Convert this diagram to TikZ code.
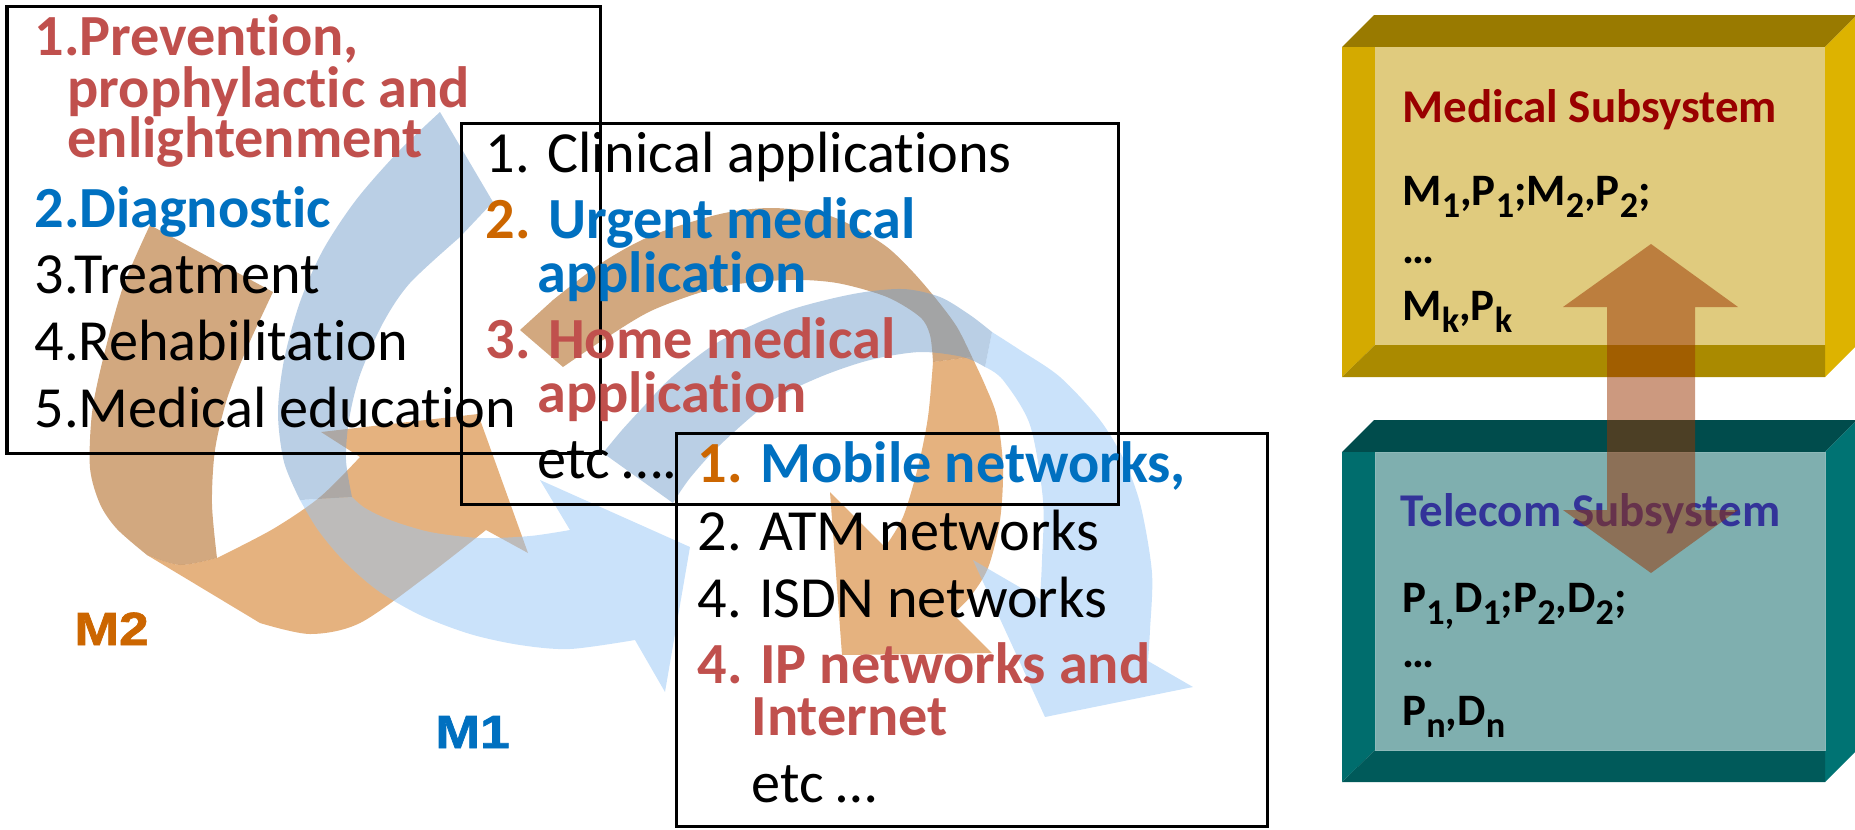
\documentclass[tikz,border=0pt]{standalone}
\usepackage{fontspec}
\setmainfont{Carlito}[Ligatures={NoCommon}]
\newfontfamily\labelfont{Liberation Sans}[FakeStretch=1.15, BoldFeatures={FakeBold=1.5}]

\definecolor{cred}{HTML}{C0504D}
\definecolor{cblue}{HTML}{0070C0}
\definecolor{corange}{HTML}{CC6600}
\definecolor{medred}{HTML}{990000}
\definecolor{telblue}{HTML}{333399}
\definecolor{ribor}{RGB}{204,102,0}
\definecolor{ribordk}{RGB}{165,82,0}
\definecolor{ribbl}{RGB}{150,197,245}
\definecolor{ribbldk}{RGB}{118,160,203}
\definecolor{linkarrow}{HTML}{993300}
\definecolor{medtop}{HTML}{997A00}
\definecolor{medside}{HTML}{DDB300}
\definecolor{medleft}{HTML}{D4AA00}
\definecolor{medbot}{HTML}{AA8A00}
\definecolor{medface}{HTML}{E0CB7E}
\definecolor{teltop}{HTML}{004C4C}
\definecolor{telside}{HTML}{007373}
\definecolor{telleft}{HTML}{006D6D}
\definecolor{telbot}{HTML}{005A5A}
\definecolor{telface}{HTML}{7FAFAF}
\definecolor{telrim}{HTML}{8DB9B9}

\newcommand\subidx[1]{\raisebox{-4.8pt}{\fontsize{14.5}{14.5}\selectfont #1}}

\begin{document}
\begin{tikzpicture}[x=0.4pt,y=-0.4pt,
  lt/.style={anchor=base west, inner sep=0pt, font=\fontsize{23.3}{26}\selectfont},
  lb/.style={anchor=base west, inner sep=0pt, font=\fontsize{23.3}{26}\selectfont\bfseries},
  rt/.style={anchor=base west, inner sep=0pt, font=\fontsize{18.8}{22}\selectfont\bfseries},
  rf/.style={anchor=base west, inner sep=0pt, font=\fontsize{18}{22}\selectfont\bfseries},
  ml/.style={anchor=base west, inner sep=0pt, font=\labelfont\fontsize{18.6}{22}\selectfont\bfseries},
  listbox/.style={draw=black, line width=1.2pt},
  back/.style={fill opacity=0.5},
]
\useasboundingbox (0,0) rectangle (1855,829);

% ---------- ribbon arrows (M2: orange, M1: blue) ----------
% orange ribbon 1: back side
\fill[ribordk, back]
  plot[smooth] coordinates {(150,225) (123,287) (103,359) (92,413) (90,468) (100,504) (117,529) (147,555)}
  -- plot[smooth] coordinates {(147,555) (180,565) (217,558)}
  -- plot[smooth] coordinates {(217,558) (212,504) (215,450) (227,399) (247,348) (273,292)}
  -- cycle;
% orange ribbon 1: front side with head
\fill[ribor, back]
  (147,555) -- (260,623)
  -- plot[smooth] coordinates {(260,623) (310,634) (360,623) (427,576) (486,530)}
  -- (528,553) -- (478,414) -- (321,432) -- (360,457)
  -- plot[smooth] coordinates {(360,457) (320,497) (273,529) (217,558)}
  -- plot[smooth] coordinates {(217,558) (180,565) (147,555)}
  -- cycle;

% blue ribbon 1: back side
\fill[ribbldk, back]
  plot[smooth] coordinates {(440,112) (398,152) (356,200) (323,250) (300,302) (284,360) (278,413) (284,462) (300,500)}
  -- (352,497)
  -- plot[smooth] coordinates {(352,497) (346,460) (349,420) (360,375) (383,323) (410,283) (460,237)}
  -- (493,202) -- cycle;
% blue ribbon 1: front side with head
\fill[ribbl, back]
  plot[smooth] coordinates {(300,500) (318,530) (343,560) (377,590) (420,615) (470,634) (520,645) (570,649) (635,640)}
  -- (665,692) -- (690,547) -- (540,480) -- (570,530)
  -- plot[smooth] coordinates {(570,530) (530,536) (480,538) (430,532) (390,520) (365,508) (352,497)}
  -- cycle;

% orange ribbon 2: back side
\fill[ribordk, back]
  (520,330)
  -- plot[smooth] coordinates {(553,300) (603,262) (653,235) (720,214) (770,208) (820,213) (853,226) (887,247) (913,272) (937,300) (957,327) (972,357)}
  -- (933,362)
  -- plot[smooth] coordinates {(933,362) (930,335) (920,317) (887,297) (837,283) (787,280) (720,287) (653,310) (603,340) (563,367)}
  -- cycle;
% orange ribbon 2: front side with head
\fill[ribor, back]
  plot[smooth] coordinates {(972,357) (985,385) (997,417) (1003,467) (1000,520) (988,568) (970,597) (953,614)}
  -- (992,653) -- (842,655) -- (830,492) -- (885,547)
  -- plot[smooth] coordinates {(885,547) (903,517) (918,467) (928,417) (933,362)}
  -- cycle;

% blue ribbon 2: back side
\fill[ribbldk, back]
  plot[smooth] coordinates {(603,453) (622,430) (645,405) (672,377) (720,341) (787,311) (853,294) (903,289) (940,297) (970,315) (992,332)}
  -- (985,367)
  -- plot[smooth] coordinates {(985,367) (963,357) (920,352) (870,360) (820,377) (770,402) (720,445) (690,478) (673,503)}
  -- cycle;
% blue ribbon 2: front side with head
\fill[ribbl, back]
  plot[smooth] coordinates {(992,332) (1020,350) (1060,377) (1100,420) (1125,462) (1141,507) (1152,573) (1150,630) (1148,661)}
  -- (1193,687) -- (1045,717) -- (973,560) -- (1040,599)
  -- plot[smooth] coordinates {(1040,599) (1042,560) (1043,500) (1030,425) (1003,380) (985,367)}
  -- cycle;

% ---------- list frames ----------
\draw[listbox] (7,6) rectangle (600,453);
\draw[listbox] (461,123) rectangle (1118,504);
\draw[listbox] (676,433) rectangle (1267,826);

% ---------- list texts ----------
\node[lb, text=cred] (a1) at (34,55) {1.Prevention,};
\node[lb, text=cred] (a1b) at (67,107) {prophylactic and};
\node[lb, text=cred] (a1c) at (67,157) {enlightenment};
\node[lb, text=cblue] (a2) at (34,227) {2.Diagnostic};
\node[lt] (a3) at (34,293) {3.Treatment};
\node[lt] (a4) at (34,360) {4.Rehabilitation};
\node[lt] (a5) at (34,427) {5.Medical education};

\node[lt] (b1) at (485,172) {1. Clinical applications};
\node[lb] (b2) at (485,238) {\textcolor{corange}{2.} \textcolor{cblue}{Urgent medical}};
\node[lb, text=cblue] (b2b) at (537,292) {application};
\node[lb, text=cred] (b3) at (485,358) {3. Home medical};
\node[lb, text=cred] (b3b) at (537,412) {application};
\node[lt] (b4) at (537,478) {etc ….};

\node[lb] (c1) at (697,482) {\textcolor{corange}{1.} \textcolor{cblue}{Mobile networks,}};
\node[lt] (c2) at (697,550) {2. ATM networks};
\node[lt] (c3) at (697,617) {4. ISDN networks};
\node[lb, text=cred] (c4) at (697,683) {4. IP networks and};
\node[lb, text=cred] (c4b) at (751,735) {Internet};
\node[lt] (c5) at (751,802) {etc …};

\node[ml, text=corange] (m2) at (74,645) {M2};
\node[ml, text=cblue] (m1) at (435,748) {M1};

% ---------- medical subsystem block ----------
\fill[medtop] (1342,47) -- (1374,15) -- (1857,15) -- (1825,47) -- cycle;
\fill[medside] (1825,47) -- (1857,15) -- (1857,345) -- (1825,377) -- cycle;
\fill[medleft] (1342,47) -- (1375,47) -- (1375,345) -- (1342,377) -- cycle;
\fill[medbot] (1342,377) -- (1375,345) -- (1825,345) -- (1825,377) -- cycle;
\fill[medface] (1375,47) rectangle (1825,345);

% ---------- telecom subsystem block ----------
\fill[teltop] (1342,452) -- (1374,420) -- (1857,420) -- (1825,452) -- cycle;
\fill[telside] (1825,452) -- (1857,420) -- (1857,750) -- (1825,782) -- cycle;
\fill[telleft] (1342,452) -- (1375,452) -- (1375,750) -- (1342,782) -- cycle;
\fill[telbot] (1342,782) -- (1375,750) -- (1825,750) -- (1825,782) -- cycle;
\fill[telface] (1375,452) rectangle (1825,750);
\draw[telrim, line width=0.4pt] (1375,452) rectangle (1825,750);

% ---------- block texts ----------
\node[rt, text=medred] (medtitle) at (1402,122) {Medical Subsystem};
\node[rf] (medl1) at (1402,205) {M\subidx{1},P\subidx{1};M\subidx{2},P\subidx{2};};
\node[rf] (medl2) at (1402,263) {…};
\node[rf] (medl3) at (1402,320) {M\subidx{k},P\subidx{k}};
\node[rt, text=telblue] (teltitle) at (1400,526) {Telecom Subsystem};
\node[rf] (tell1) at (1402,612) {P\subidx{1,}D\subidx{1};P\subidx{2},D\subidx{2};};
\node[rf] (tell2) at (1402,667) {…};
\node[rf] (tell3) at (1402,725) {P\subidx{n},D\subidx{n}};

% ---------- exchange arrow between the blocks ----------
\fill[linkarrow, fill opacity=0.5]
  (1651,244) -- (1738,307) -- (1695,307) -- (1695,510) -- (1738,510)
  -- (1651,573) -- (1563,510) -- (1607,510) -- (1607,307) -- (1563,307) -- cycle;
\end{tikzpicture}
\end{document}
